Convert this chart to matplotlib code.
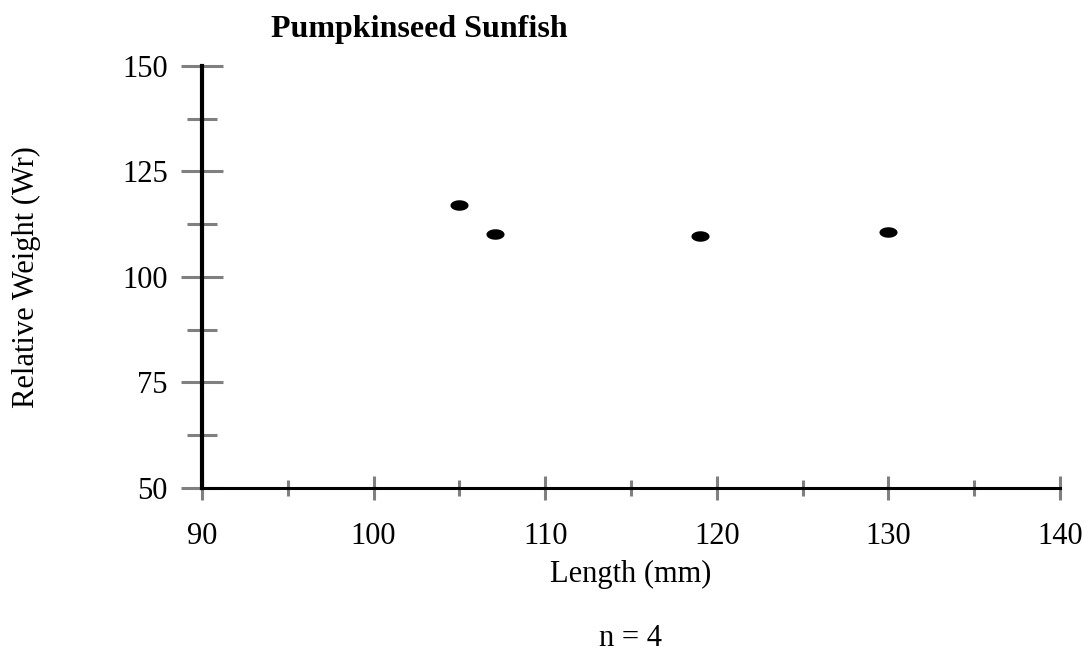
import matplotlib.pyplot as plt
import numpy as np
from matplotlib.path import Path
from matplotlib.ticker import MultipleLocator

# data
length_mm = [105.0, 107.1, 119.0, 130.0]
rel_weight = [117.1, 110.1, 109.6, 110.6]
n_fish = 4

plt.rcParams["font.family"] = ["Liberation Serif", "DejaVu Serif"]

# Excel-style squashed dot
t = np.linspace(0, 2 * np.pi, 40)
ellipse = Path(np.column_stack([np.cos(t), 0.58 * np.sin(t)]), closed=True)

fig = plt.figure(figsize=(10.84, 6.55), dpi=100)
ax = fig.add_axes([0.1863, 0.2550, 0.7916, 0.6443])

ax.scatter(length_mm, rel_weight, marker=ellipse, s=170, color="black",
           linewidths=0, zorder=3, clip_on=False)

ax.set_xlim(90, 140)
ax.set_ylim(50, 150)
ax.xaxis.set_major_locator(MultipleLocator(10))
ax.xaxis.set_minor_locator(MultipleLocator(5))
ax.yaxis.set_major_locator(MultipleLocator(25))
ax.yaxis.set_minor_locator(MultipleLocator(12.5))

for side in ("top", "right"):
    ax.spines[side].set_visible(False)
ax.spines["left"].set_linewidth(3.0)
ax.spines["bottom"].set_linewidth(2.2)

ax.tick_params(axis="y", which="major", direction="inout", length=30,
               width=2.2, color="#808080", labelsize=22, pad=9.5)
ax.tick_params(axis="y", which="minor", direction="inout", length=22,
               width=2.2, color="#808080")
ax.tick_params(axis="x", which="major", direction="inout", length=17,
               width=2.2, color="#808080", labelsize=22, pad=16)
ax.tick_params(axis="x", which="minor", direction="inout", length=12,
               width=2.2, color="#808080")
for tl in ax.get_xticklines() + ax.get_yticklines():
    tl.set_zorder(4)

ax.set_xlabel("Length (mm)", fontsize=22, va="baseline")
ax.xaxis.set_label_coords(0.5, -0.2227)
ax.set_ylabel("Relative Weight (Wr)", fontsize=22)
ax.yaxis.set_label_coords(-0.187, 0.5)

fig.text(0.3865, 0.944, "Pumpkinseed Sunfish", fontsize=23,
         fontweight="bold", ha="center", va="baseline")
fig.text(0.582, 0.013, f"n = {n_fish}", fontsize=22, ha="center",
         va="baseline")

fig.savefig("out.png", dpi=100)
